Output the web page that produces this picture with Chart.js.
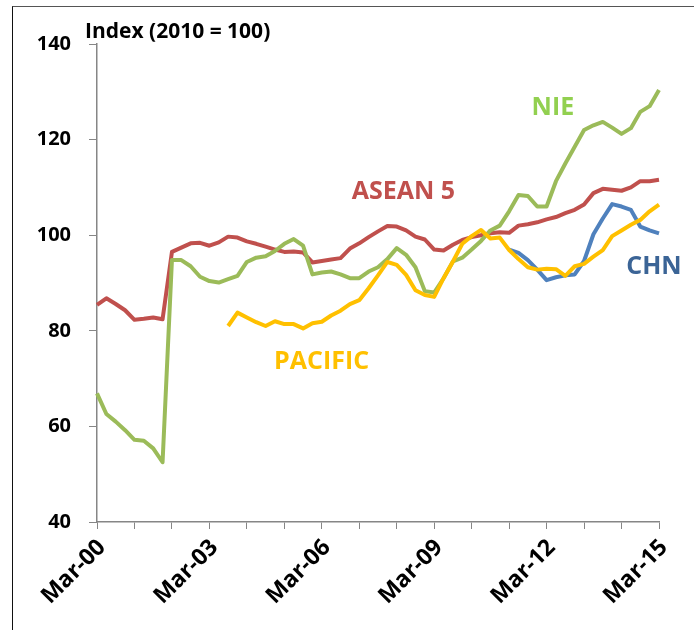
<!DOCTYPE html>
<html>
<head>
<meta charset="utf-8">
<script src="https://cdn.jsdelivr.net/npm/chart.js@4.4.1/dist/chart.umd.min.js"></script>
<style>
  body { margin: 0; background: #fff; }
  .wrap { position: relative; width: 694px; height: 630px; overflow: hidden; }
  .frame { position: absolute; left: 12px; top: 6px; width: 720px; height: 660px;
           border-left: 1.5px solid #111; border-top: 1.5px solid #555; }
  canvas { position: absolute; left: 0; top: 0; }
</style>
</head>
<body>
<div class="wrap">
  <div class="frame"></div>
  <canvas class="myChart" width="694" height="630"></canvas>
</div>
<script>
// kwartalen Mar-00 t/m Mar-15
const kwartalen = [];
const maanden = ["Mar", "Jun", "Sep", "Dec"];
for (let jaar = 0; jaar <= 15; jaar++) {
  for (let q = 0; q < 4; q++) {
    if (jaar === 15 && q > 0) break;
    kwartalen.push(maanden[q] + "-" + String(jaar).padStart(2, "0"));
  }
}

const asean5 = [85.4, 86.8, 85.6, 84.3, 82.3, 82.5, 82.8, 82.4, 96.5, 97.4,
  98.3, 98.4, 97.8, 98.5, 99.7, 99.5, 98.7, 98.2, 97.6, 97.0,
  96.5, 96.6, 96.4, 94.3, 94.6, 94.9, 95.2, 97.2, 98.3, 99.6,
  100.8, 101.9, 101.8, 101.0, 99.7, 99.1, 97.0, 96.8, 98.0, 99.0,
  99.6, 100.0, 100.4, 100.6, 100.5, 102.0, 102.3, 102.7, 103.3, 103.8,
  104.6, 105.3, 106.4, 108.8, 109.7, 109.5, 109.3, 110.0, 111.3, 111.3, 111.6];

const nie = [66.9, 62.6, 61.0, 59.2, 57.2, 57.0, 55.4, 52.5, 94.8, 94.8,
  93.5, 91.3, 90.4, 90.1, 90.8, 91.5, 94.4, 95.3, 95.6, 96.7,
  98.2, 99.2, 97.8, 91.8, 92.2, 92.4, 91.8, 91.0, 91.0, 92.4,
  93.3, 95.0, 97.3, 95.9, 93.3, 88.3, 88.0, 91.0, 94.5, 95.3,
  97.0, 98.8, 101.0, 102.0, 105.0, 108.4, 108.2, 106.0, 106.0, 111.3,
  115.0, 118.5, 122.0, 123.0, 123.7, 122.5, 121.2, 122.4, 125.8, 127.0, 130.4];

const pacific = [null, null, null, null, null, null, null, null, null, null,
  null, null, null, null, 81.0, 83.8, 82.8, 81.8, 81.0, 82.0,
  81.4, 81.4, 80.5, 81.6, 81.9, 83.2, 84.2, 85.6, 86.4, 88.9,
  91.6, 94.4, 93.8, 91.7, 88.5, 87.5, 87.1, 91.0, 94.5, 98.2,
  99.8, 101.1, 99.3, 99.5, 96.9, 95.0, 93.3, 92.8, 93.0, 92.9,
  91.5, 93.5, 94.0, 95.5, 96.9, 99.8, 101.0, 102.2, 103.2, 105.0, 106.4];

const chn = [null, null, null, null, null, null, null, null, null, null,
  null, null, null, null, null, null, null, null, null, null,
  null, null, null, null, null, null, null, null, null, null,
  null, null, null, null, null, null, null, null, null, null,
  null, null, null, null, 97.0, 96.3, 94.8, 92.8, 90.6, 91.2,
  91.6, 91.8, 94.6, 100.2, 103.5, 106.5, 106.0, 105.3, 101.8, 101.0, 100.4];

const yTicks = [40, 60, 80, 100, 120, 140];

// labels in de grafiek: [tekst, kwartaal-index, waarde, kleur]
const reeksLabels = [
  ["NIE", 46.4, 126.6, "#92D050"],
  ["ASEAN 5", 27.2, 109.1, "#C0504D"],
  ["CHN", 56.5, 93.4, "#3B6496"],
  ["PACIFIC", 18.9, 73.5, "#FFC000"]
];

const tekstPlugin = {
  id: "tekst",
  afterDatasetsDraw(chart) {
    const ctx = chart.ctx;
    const x = chart.scales.x, y = chart.scales.y;
    ctx.save();
    ctx.textBaseline = "middle";
    ctx.textAlign = "left";
    ctx.font = "bold 21px 'Open Sans'";
    ctx.fillStyle = "#000";
    ctx.fillText("Index (2010 = 100)", chart.chartArea.left - 12, chart.chartArea.top - 12);
    ctx.font = "bold 25px 'Open Sans'";
    reeksLabels.forEach(l => {
      const px = x.left + (x.right - x.left) * l[1] / (kwartalen.length - 1);
      ctx.fillStyle = l[3];
      ctx.fillText(l[0], px, y.getPixelForValue(l[2]));
    });
    ctx.restore();
  }
};

const lijn = (label, data, kleur, order) => ({
  label: label, data: data, borderColor: kleur, backgroundColor: kleur,
  borderWidth: 4, pointRadius: 0, tension: 0, order: order,
  borderJoinStyle: "round", spanGaps: false
});

const ctx = document.querySelector(".myChart").getContext("2d");
const myChart = new Chart(ctx, {
  type: "line",
  data: {
    labels: kwartalen,
    datasets: [
      lijn("PACIFIC", pacific, "#FFC000", 1),
      lijn("CHN", chn, "#4F81BD", 2),
      lijn("NIE", nie, "#9BBB59", 3),
      lijn("ASEAN 5", asean5, "#C0504D", 4)
    ]
  },
  options: {
    responsive: false,
    animation: false,
    layout: { padding: { top: 44, right: 35, left: 0, bottom: 0 } },
    plugins: { legend: { display: false }, tooltip: { enabled: false } },
    scales: {
      x: {
        type: "category",
        afterFit: s => { s.height = 108; },
        border: { color: "#868686", width: 1.5 },
        grid: {
          drawOnChartArea: false,
          tickLength: 7,
          tickColor: c => (c.index % 4 === 0 ? "#868686" : "rgba(0,0,0,0)")
        },
        ticks: {
          autoSkip: false,
          minRotation: 45,
          maxRotation: 45,
          padding: 5,
          labelOffset: 5,
          color: "#000",
          font: { family: "'Open Sans'", weight: "bold", size: 23 },
          callback: (v, i) => (i % 12 === 0 ? kwartalen[i] : "")
        }
      },
      y: {
        min: 40,
        max: 140,
        afterFit: s => { s.width = 97; },
        afterBuildTicks: s => { s.ticks = yTicks.map(v => ({ value: v })); },
        border: { color: "#868686", width: 1.5 },
        grid: { drawOnChartArea: false, tickLength: 8, tickColor: "#868686" },
        ticks: {
          padding: 18,
          color: "#000",
          font: { family: "'Open Sans'", weight: "bold", size: 20 }
        }
      }
    }
  },
  plugins: [tekstPlugin]
});
</script>
</body>
</html>
